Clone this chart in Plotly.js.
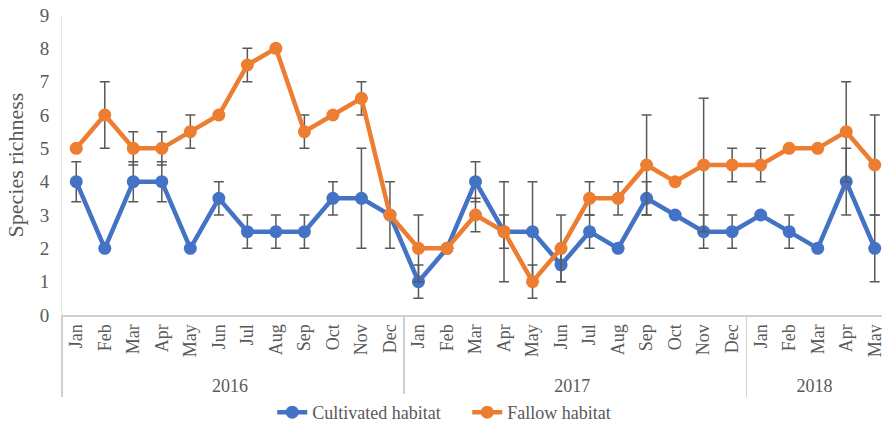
<!DOCTYPE html>
<html>
<head>
<meta charset="utf-8">
<script src="https://cdn.plot.ly/plotly-3.0.1.min.js"></script>
<style>
html,body{margin:0;padding:0;overflow:hidden;background:#fff;width:882px;height:429px;}
#chart{width:892px;height:429px;}
</style>
</head>
<body>
<div id="chart"></div>
<script>
const years = ['2016','2016','2016','2016','2016','2016','2016','2016','2016','2016','2016','2016',
               '2017','2017','2017','2017','2017','2017','2017','2017','2017','2017','2017','2017',
               '2018','2018','2018','2018','2018'];
const months = ['Jan','Feb','Mar','Apr','May','Jun','Jul','Aug','Sep','Oct','Nov','Dec',
                'Jan','Feb','Mar','Apr','May','Jun','Jul','Aug','Sep','Oct','Nov','Dec',
                'Jan','Feb','Mar','Apr','May'];
const cultivated = [4,2,4,4,2,3.5,2.5,2.5,2.5,3.5,3.5,3,
                    1,2,4,2.5,2.5,1.5,2.5,2,3.5,3,2.5,2.5,
                    3,2.5,2,4,2];
const cultivatedErr = [0.6,0,0.6,0.6,0,0.5,0.5,0.5,0.5,0.5,1.5,1,
                       0.5,0,0.6,0.5,1.5,0.5,0.5,0,0.5,0,0.5,0.5,
                       0,0.5,0,1,1];
const fallow = [5,6,5,5,5.5,6,7.5,8,5.5,6,6.5,3,
                2,2,3,2.5,1,2,3.5,3.5,4.5,4,4.5,4.5,
                4.5,5,5,5.5,4.5];
const fallowErr = [0,1,0.5,0.5,0.5,0,0.5,0,0.5,0,0.5,0,
                   1,0,0.5,1.5,0.5,1,0.5,0.5,1.5,0,2,0.5,
                   0.5,0,0,1.5,1.5];

const serif = 'Liberation Serif';
const txt = '#595959';

function trace(name, y, err, color){
  return {
    type:'scatter', mode:'lines+markers', name:name,
    x:[years, months], y:y,
    line:{color:color, width:4.5},
    marker:{color:color, size:13},
    error_y:{type:'data', array:err, visible:true, color:'#595959', thickness:1.5, width:5}
  };
}

const data = [
  trace('Cultivated habitat', cultivated, cultivatedErr, '#4472C4'),
  trace('Fallow habitat', fallow, fallowErr, '#ED7D31')
];

const layout = {
  width:892, height:429,
  margin:{l:62, r:3, t:15, b:114, autoexpand:false},
  paper_bgcolor:'#fff', plot_bgcolor:'#fff',
  font:{family:serif, color:txt, size:18},
  showlegend:true,
  legend:{orientation:'h', x:0.49, xanchor:'center', y:-0.325, yanchor:'middle',
          font:{family:serif, size:18, color:txt}, tracegroupgap:0, entrywidth:150},
  xaxis:{
    type:'multicategory', tickangle:-90, range:[-0.5, 28.5], automargin:false,
    tickfont:{family:serif, size:18, color:txt},
    showline:true, linecolor:'#d0d0d0', linewidth:2,
    showgrid:false, ticks:'',
    showdividers:true, dividercolor:'#d0d0d0', dividerwidth:1.5,
    zeroline:false
  },
  yaxis:{
    range:[0,9], dtick:1, tick0:0, automargin:false,
    showgrid:false, zeroline:false,
    showline:true, linecolor:'#e6e6e6', linewidth:1,
    ticks:'', ticklabelstandoff:8, tickfont:{family:serif, size:19, color:txt},
    title:{text:'Species richness', font:{family:serif, size:22, color:txt}, standoff:10}
  }
};

Plotly.newPlot('chart', data, layout, {displayModeBar:false, staticPlot:true});
</script>
</body>
</html>
